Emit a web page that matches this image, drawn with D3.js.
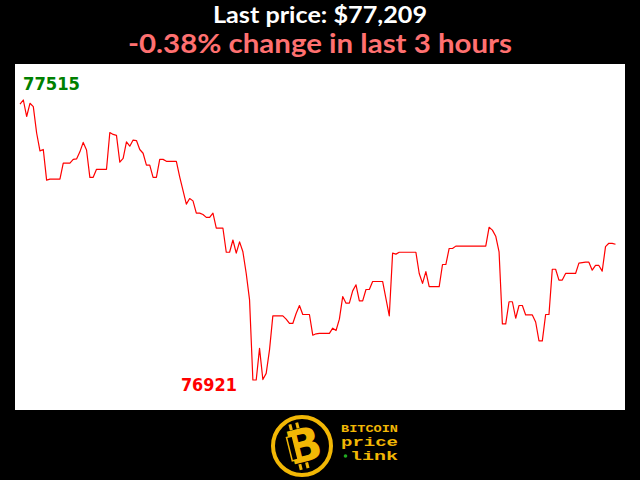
<!DOCTYPE html>
<html>
<head>
<meta charset="utf-8">
<script src="https://cdn.jsdelivr.net/npm/d3@7"></script>
<style>
  html, body { margin: 0; padding: 0; background: #000; }
  svg { display: block; }
</style>
</head>
<body>
<svg id="chart" width="640" height="480"></svg>
<script>
// ---- data (minutes into the last 3 hours, BTC price in USD) ----
const minutes = [0,1,2,3,4,5,6,7,8,9,12,13,15,16,17,18,19,20,21,22,23,26,27,28,29,30,31,32,33,34,35,36,37,38,39,40,41,42,43,44,47,48,50,51,52,53,54,55,56,57,58,59,61,62,63,64,65,66,67,68,69,70,71,72,73,74,75,76,79,80,81,82,83,84,85,87,88,89,90,93,94,95,96,97,98,99,100,101,102,103,104,105,106,109,111,112,113,114,119,120,121,122,123,126,127,128,129,130,131,140,141,142,143,144,145,146,147,148,149,150,151,152,154,155,156,157,158,159,160,161,162,163,164,167,168,170,171,172,173,174,175,176,177,178,179];
const prices = [77506,77515,77480,77508,77501,77445,77407,77410,77345,77347,77347,77381,77381,77389,77390,77405,77425,77409,77351,77351,77368,77368,77446,77442,77440,77383,77391,77426,77417,77430,77429,77410,77402,77377,77377,77351,77351,77389,77389,77385,77385,77352,77294,77306,77301,77275,77275,77272,77266,77266,77275,77243,77243,77192,77192,77218,77190,77214,77193,77147,77091,76921,76921,76988,76922,76935,76985,77057,77057,77050,77041,77041,77062,77079,77060,77060,77016,77019,77020,77020,77031,77026,77050,77098,77084,77084,77110,77123,77089,77089,77113,77113,77130,77130,77057,77190,77188,77192,77192,77147,77126,77151,77119,77119,77166,77166,77200,77200,77205,77205,77245,77239,77226,77193,77040,77040,77087,77087,77052,77079,77079,77059,77059,77044,77004,77004,77060,77060,77156,77156,77133,77133,77147,77147,77169,77171,77171,77154,77164,77164,77152,77204,77211,77211,77209];
const lastPriceText = "Last price: $77,209";
const changeText = "-0.38% change in last 3 hours";
const logoLines = ["BITCOIN", "price", "link"];

const data = minutes.map((m, i) => ({ m, p: prices[i] }));
const svg = d3.select("#chart");

// background
svg.append("rect").attr("width", 640).attr("height", 480).attr("fill", "#000");

// titles
svg.append("text")
  .attr("x", 320).attr("y", 23)
  .attr("text-anchor", "middle")
  .attr("font-family", "Lato, sans-serif").attr("font-weight", "bold")
  .attr("font-size", 22).attr("fill", "#ffffff")
  .attr("textLength", 214).attr("lengthAdjust", "spacingAndGlyphs")
  .text(lastPriceText);

svg.append("text")
  .attr("x", 320).attr("y", 53)
  .attr("text-anchor", "middle")
  .attr("font-family", "Lato, sans-serif").attr("font-weight", "bold")
  .attr("font-size", 26).attr("fill", "#ff7070")
  .attr("textLength", 384).attr("lengthAdjust", "spacingAndGlyphs")
  .text(changeText);

// plot panel
svg.append("rect")
  .attr("x", 15).attr("y", 64).attr("width", 610).attr("height", 346)
  .attr("fill", "#ffffff");

const x = d3.scaleLinear().domain([0, 179]).range([20, 615.5]);
const yMin = d3.min(prices), yMax = d3.max(prices);
const y = d3.scaleLinear().domain([yMin, yMax]).range([380, 100]);

svg.append("path")
  .datum(data)
  .attr("fill", "none")
  .attr("stroke", "#ff0000")
  .attr("stroke-width", 1.2)
  .attr("stroke-linejoin", "round")
  .attr("d", d3.line().x(d => x(d.m)).y(d => y(d.p)));

// max / min labels
const maxPt = data.find(d => d.p === yMax);
const minPt = data.find(d => d.p === yMin);

svg.append("text")
  .attr("x", 23).attr("y", 90)
  .attr("font-family", "'DejaVu Sans Condensed', 'DejaVu Sans', sans-serif")
  .attr("font-stretch", "condensed")
  .attr("font-weight", "bold").attr("font-size", 18)
  .attr("fill", "#008000")
  .attr("textLength", 57).attr("lengthAdjust", "spacingAndGlyphs")
  .text(String(maxPt.p));

svg.append("text")
  .attr("x", x(minPt.m) - 16).attr("y", y(minPt.p) + 11)
  .attr("text-anchor", "end")
  .attr("font-family", "'DejaVu Sans Condensed', 'DejaVu Sans', sans-serif")
  .attr("font-stretch", "condensed")
  .attr("font-weight", "bold").attr("font-size", 18)
  .attr("fill", "#ff0000")
  .attr("textLength", 56).attr("lengthAdjust", "spacingAndGlyphs")
  .text(String(minPt.p));

// logo
const gold = "#f2b705";
const logo = svg.append("g");
logo.append("circle").attr("cx", 302).attr("cy", 446).attr("r", 29)
  .attr("fill", "#000").attr("stroke", gold).attr("stroke-width", 4);
const bG = logo.append("g").attr("transform", "translate(302,446) rotate(-14)");
bG.append("text")
  .attr("x", 2).attr("y", 16)
  .attr("text-anchor", "middle")
  .attr("font-family", "'DejaVu Sans', sans-serif").attr("font-weight", "bold")
  .attr("font-size", 46).attr("fill", gold)
  .text("B");
[-8, -1].forEach(dx => {
  bG.append("rect").attr("x", dx).attr("y", -24).attr("width", 3).attr("height", 6).attr("fill", gold);
  bG.append("rect").attr("x", dx).attr("y", 17).attr("width", 3).attr("height", 6).attr("fill", gold);
});
bG.append("rect").attr("x", -13).attr("y", -12).attr("width", 6).attr("height", 24)
  .attr("fill", "#000").attr("stroke", gold).attr("stroke-width", 1.5);

const mono = "'Liberation Mono', 'DejaVu Sans Mono', monospace";
logo.append("text").attr("x", 341).attr("y", 432)
  .attr("font-family", mono).attr("font-weight", "bold")
  .attr("font-size", 11).attr("fill", gold)
  .attr("textLength", 57).attr("lengthAdjust", "spacingAndGlyphs")
  .text(logoLines[0]);
logo.append("text").attr("x", 341).attr("y", 446)
  .attr("font-family", mono).attr("font-weight", "bold")
  .attr("font-size", 13).attr("fill", gold)
  .attr("textLength", 57).attr("lengthAdjust", "spacingAndGlyphs")
  .text(logoLines[1]);
logo.append("circle").attr("cx", 345.5).attr("cy", 456).attr("r", 1.8).attr("fill", "#22aa22");
logo.append("text").attr("x", 350).attr("y", 460)
  .attr("font-family", mono).attr("font-weight", "bold")
  .attr("font-size", 13).attr("fill", gold)
  .attr("textLength", 48).attr("lengthAdjust", "spacingAndGlyphs")
  .text(logoLines[2]);
</script>
</body>
</html>
